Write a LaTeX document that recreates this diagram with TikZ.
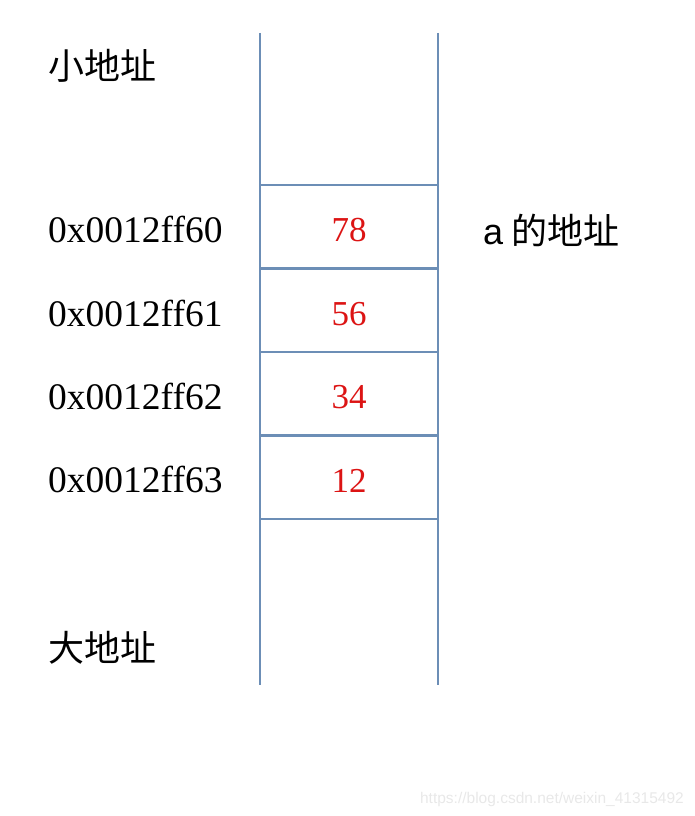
\documentclass[tikz,border=0pt]{standalone}
\usepackage{fontspec}
\setmainfont{Liberation Serif}
\newfontfamily\cjkfont{Noto Sans CJK SC}
\newfontfamily\arialfont{Liberation Sans}
\usetikzlibrary{math}
\definecolor{stackline}{RGB}{108,142,182}
\definecolor{valred}{RGB}{220,20,20}
\definecolor{markgray}{RGB}{232,232,232}

\tikzset{
  cell/.style={draw=stackline, line width=2.8pt, minimum width=178pt, minimum height=83.5pt,
    inner sep=0pt, text=valred, font=\fontsize{35}{40}\selectfont},
  addr/.style={anchor=base west, inner sep=0pt, font=\fontsize{37.5}{42}\selectfont},
  cjklabel/.style={anchor=base west, inner sep=0pt, font=\cjkfont\fontsize{36}{40}\selectfont},
}
\newcommand{\byteval}[1]{\raisebox{-15pt}[0pt][0pt]{#1}}

\begin{document}
\begin{tikzpicture}[x=1pt, y=-1pt]
      \tikzmath{\xl = 260; \xr = 438; \ytop = 33; \ybot = 685; \hrow = 83.5; \xmid = (\xl + \xr)/2;}
      \useasboundingbox (0,0) rectangle (694,816);
      \coordinate (ltop) at (\xl,\ytop);
      \coordinate (lbot) at (\xl,\ybot);
      \coordinate (rtop) at (\xr,\ytop);
      \coordinate (rbot) at (\xr,\ybot);
      \draw[stackline, line width=2.8pt] (ltop) -- (lbot);
      \draw[stackline, line width=2.8pt] (rtop) -- (rbot);
      % the four bytes of a
      \node[cell] (b60) at (\xmid,185 + 0.5*\hrow) {\byteval{78}};
      \node[cell] (b61) at (\xmid,185 + 1.5*\hrow) {\byteval{56}};
      \node[cell] (b62) at (\xmid,185 + 2.5*\hrow) {\byteval{34}};
      \node[cell] (b63) at (\xmid,185 + 3.5*\hrow) {\byteval{12}};
      \node[addr] (a60) at (48,242) {0x0012ff60};
      \node[addr] (a61) at (48,326) {0x0012ff61};
      \node[addr] (a62) at (48,409) {0x0012ff62};
      \node[addr] (a63) at (48,492) {0x0012ff63};
      \node[cjklabel] (low) at (48,79) {小地址};
      \node[cjklabel] (high) at (48,661) {大地址};
      \node[cjklabel] (aaddr) at (483,244) {{\arialfont a} 的地址};
      \node[anchor=base east, inner sep=0pt, text=markgray, font=\arialfont\fontsize{15.5}{18}\selectfont] (mark) at (684,803) {https://blog.csdn.net/weixin\_41315492};
    \end{tikzpicture}
\end{document}
